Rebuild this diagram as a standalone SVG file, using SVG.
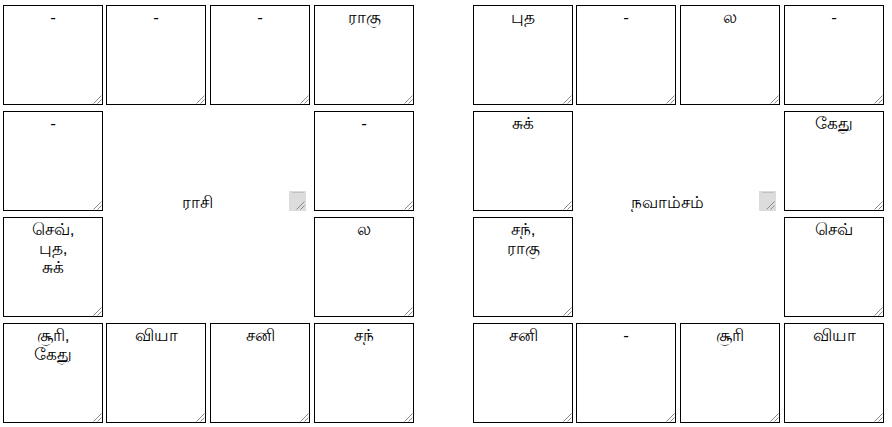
<svg xmlns="http://www.w3.org/2000/svg" xmlns:xlink="http://www.w3.org/1999/xlink" width="892" height="427" viewBox="0 0 892 427">
<style>
.box{fill:#fff;stroke:#000;stroke-width:1}
.t{font-family:"Liberation Sans","Noto Sans",sans-serif;font-size:17px;fill:#000;text-anchor:middle}
.grip{fill:none;stroke:#8a8a8a;stroke-width:1}
.corner{fill:#dcdcdc}
</style>
<defs>
<g id="g"><path class="grip" d="M8.5 0.5 L0.5 8.5 M8.5 4.5 L4.5 8.5"/></g>
<g id="cg"><rect class="corner" x="0" y="0" width="17" height="20"/><path d="M3 1.5 H15" stroke="#c2c2c2" stroke-width="1"/><path class="grip" d="M15.5 10.5 L7.5 18.5 M15.5 14.5 L11.5 18.5"/></g>
</defs>
<rect width="892" height="427" fill="#fff"/>
<g id="rasi">
<g id="r-1-1"><rect class="box" x="3.5" y="5.5" width="99" height="99"/><use href="#g" x="93" y="95"/><text class="t" x="53" y="23">-</text></g>
<g id="r-1-2"><rect class="box" x="106.5" y="5.5" width="99" height="99"/><use href="#g" x="196" y="95"/><text class="t" x="156" y="23">-</text></g>
<g id="r-1-3"><rect class="box" x="210.5" y="5.5" width="99" height="99"/><use href="#g" x="300" y="95"/><text class="t" x="260" y="23">-</text></g>
<g id="r-1-4"><rect class="box" x="314.5" y="5.5" width="99" height="99"/><use href="#g" x="404" y="95"/><text class="t" x="364" y="23">ராகு</text></g>
<g id="r-2-1"><rect class="box" x="3.5" y="111.5" width="99" height="99"/><use href="#g" x="93" y="201"/><text class="t" x="53" y="129">-</text></g>
<g id="r-2-4"><rect class="box" x="314.5" y="111.5" width="99" height="99"/><use href="#g" x="404" y="201"/><text class="t" x="364" y="129">-</text></g>
<g id="r-3-1"><rect class="box" x="3.5" y="217.5" width="99" height="99"/><use href="#g" x="93" y="307"/><text class="t" x="53" y="235">செவ்,</text><text class="t" x="53" y="254">புத,</text><text class="t" x="53" y="273">சுக்</text></g>
<g id="r-3-4"><rect class="box" x="314.5" y="217.5" width="99" height="99"/><use href="#g" x="404" y="307"/><text class="t" x="364" y="235">ல</text></g>
<g id="r-4-1"><rect class="box" x="3.5" y="323.5" width="99" height="99"/><use href="#g" x="93" y="413"/><text class="t" x="53" y="341">சூரி,</text><text class="t" x="53" y="360">கேது</text></g>
<g id="r-4-2"><rect class="box" x="106.5" y="323.5" width="99" height="99"/><use href="#g" x="196" y="413"/><text class="t" x="156" y="341">வியா</text></g>
<g id="r-4-3"><rect class="box" x="210.5" y="323.5" width="99" height="99"/><use href="#g" x="300" y="413"/><text class="t" x="260" y="341">சனி</text></g>
<g id="r-4-4"><rect class="box" x="314.5" y="323.5" width="99" height="99"/><use href="#g" x="404" y="413"/><text class="t" x="364" y="341">சந்</text></g>
<g id="r-center"><text class="t" x="197.5" y="208">ராசி</text><use href="#cg" x="289" y="191"/></g>
</g>
<g id="navamsam">
<g id="n-1-1"><rect class="box" x="473.5" y="5.5" width="99" height="99"/><use href="#g" x="563" y="95"/><text class="t" x="523" y="23">புத</text></g>
<g id="n-1-2"><rect class="box" x="576.5" y="5.5" width="99" height="99"/><use href="#g" x="666" y="95"/><text class="t" x="626" y="23">-</text></g>
<g id="n-1-3"><rect class="box" x="680.5" y="5.5" width="99" height="99"/><use href="#g" x="770" y="95"/><text class="t" x="730" y="23">ல</text></g>
<g id="n-1-4"><rect class="box" x="784.5" y="5.5" width="99" height="99"/><use href="#g" x="874" y="95"/><text class="t" x="834" y="23">-</text></g>
<g id="n-2-1"><rect class="box" x="473.5" y="111.5" width="99" height="99"/><use href="#g" x="563" y="201"/><text class="t" x="523" y="129">சுக்</text></g>
<g id="n-2-4"><rect class="box" x="784.5" y="111.5" width="99" height="99"/><use href="#g" x="874" y="201"/><text class="t" x="834" y="129">கேது</text></g>
<g id="n-3-1"><rect class="box" x="473.5" y="217.5" width="99" height="99"/><use href="#g" x="563" y="307"/><text class="t" x="523" y="235">சந்,</text><text class="t" x="523" y="254">ராகு</text></g>
<g id="n-3-4"><rect class="box" x="784.5" y="217.5" width="99" height="99"/><use href="#g" x="874" y="307"/><text class="t" x="834" y="235">செவ்</text></g>
<g id="n-4-1"><rect class="box" x="473.5" y="323.5" width="99" height="99"/><use href="#g" x="563" y="413"/><text class="t" x="523" y="341">சனி</text></g>
<g id="n-4-2"><rect class="box" x="576.5" y="323.5" width="99" height="99"/><use href="#g" x="666" y="413"/><text class="t" x="626" y="341">-</text></g>
<g id="n-4-3"><rect class="box" x="680.5" y="323.5" width="99" height="99"/><use href="#g" x="770" y="413"/><text class="t" x="730" y="341">சூரி</text></g>
<g id="n-4-4"><rect class="box" x="784.5" y="323.5" width="99" height="99"/><use href="#g" x="874" y="413"/><text class="t" x="834" y="341">வியா</text></g>
<g id="n-center"><text class="t" x="667.5" y="208">நவாம்சம்</text><use href="#cg" x="759" y="191"/></g>
</g>
<g id="connectors"/>
</svg>
